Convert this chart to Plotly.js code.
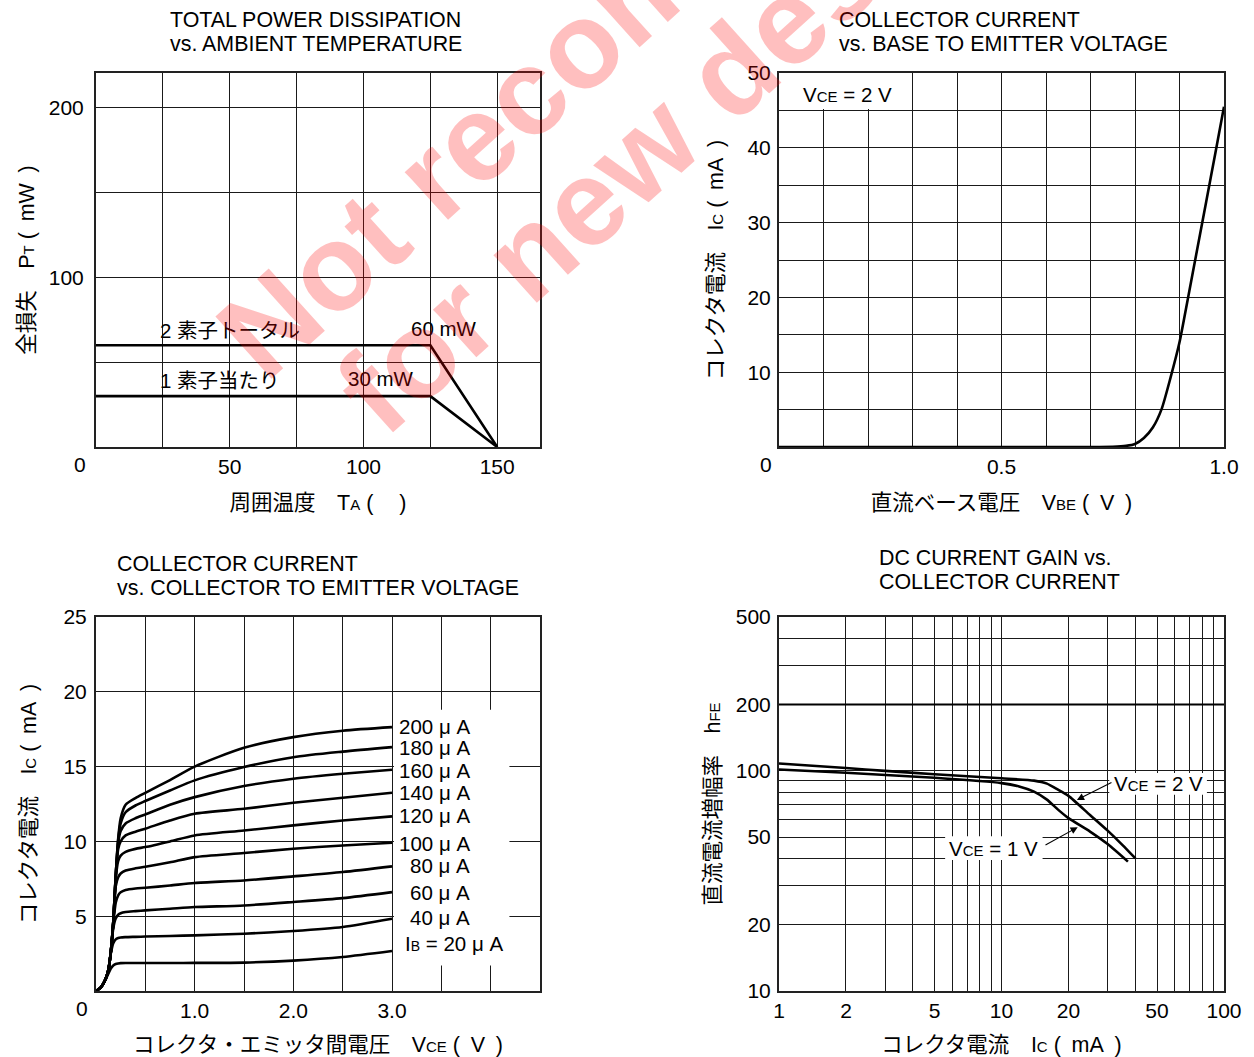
<!DOCTYPE html>
<html><head><meta charset="utf-8">
<script src="https://cdn.plot.ly/plotly-3.0.1.min.js"></script>
<style>html,body{margin:0;padding:0;background:#fff;}</style>
</head><body>
<div id="chart" style="width:1254px;height:1057px;"></div>
<script>
// ---------- Panel 1: total power dissipation vs ambient temperature ----------
const ambientTemp = [0, 125, 150];
const ptTwoElements = [60, 60, 0];
const ptOneElement = [30, 30, 0];

// ---------- Panel 2: collector current vs base-emitter voltage (VCE = 2 V) ----------
const vbe = [0, 0.70, 0.75, 0.78, 0.80, 0.82, 0.84, 0.86, 0.88, 0.90, 0.92, 0.94, 0.96, 0.98, 1.00];
const icVbe = [0, 0, 0.03, 0.15, 0.4, 1.2, 2.6, 5.1, 9.3, 14.0, 20.2, 26.5, 32.8, 39.1, 45.5];

// ---------- Panel 3: collector current vs collector-emitter voltage ----------
const vceGrid = [0, 0.05, 0.10, 0.125, 0.15, 0.175, 0.20, 0.225, 0.25, 0.30, 0.40, 0.50, 0.75, 1.0, 1.5, 2.0, 2.5, 3.0];
const ic_ib20  = [0, 0.25, 0.80, 1.15, 1.50, 1.70, 1.80, 1.84, 1.86, 1.87, 1.87, 1.87, 1.87, 1.88, 1.90, 2.03, 2.27, 2.67];
const ic_ib40  = [0, 0.25, 0.85, 1.35, 2.50, 3.20, 3.45, 3.54, 3.58, 3.60, 3.62, 3.64, 3.68, 3.72, 3.83, 4.01, 4.28, 4.83];
const ic_ib60  = [0, 0.25, 0.85, 1.40, 2.60, 4.20, 4.85, 5.10, 5.20, 5.28, 5.34, 5.39, 5.50, 5.61, 5.72, 5.95, 6.21, 6.61];
const ic_ib80  = [0, 0.25, 0.85, 1.40, 2.60, 4.50, 5.90, 6.40, 6.60, 6.75, 6.85, 6.90, 7.05, 7.22, 7.39, 7.66, 7.95, 8.33];
const ic_ib100 = [0, 0.25, 0.85, 1.40, 2.60, 4.60, 7.00, 7.60, 7.85, 8.05, 8.20, 8.30, 8.60, 8.95, 9.22, 9.51, 9.73, 9.91];
const ic_ib120 = [0, 0.25, 0.85, 1.40, 2.60, 4.60, 7.50, 8.70, 9.05, 9.30, 9.50, 9.62, 10.0, 10.4, 10.73, 11.07, 11.4, 11.67];
const ic_ib140 = [0, 0.25, 0.85, 1.40, 2.60, 4.60, 7.70, 9.50, 10.0, 10.4, 10.65, 10.85, 11.4, 11.85, 12.18, 12.58, 12.92, 13.25];
const ic_ib160 = [0, 0.25, 0.85, 1.40, 2.60, 4.60, 7.70, 9.90, 10.7, 11.2, 11.55, 11.8, 12.45, 12.96, 13.7, 14.19, 14.52, 14.79];
const ic_ib180 = [0, 0.25, 0.85, 1.40, 2.60, 4.60, 7.70, 10.1, 11.2, 11.95, 12.4, 12.7, 13.4, 14.08, 14.97, 15.63, 16.0, 16.3];
const ic_ib200 = [0, 0.25, 0.85, 1.40, 2.60, 4.60, 7.70, 10.2, 11.55, 12.45, 12.9, 13.25, 14.1, 15.0, 16.26, 16.97, 17.4, 17.64];
const ibCurves = [ic_ib20, ic_ib40, ic_ib60, ic_ib80, ic_ib100, ic_ib120, ic_ib140, ic_ib160, ic_ib180, ic_ib200];
const ibLabels = ['I<span style="font-size:14px">B</span> = 20 μ A', '40 μ A', '60 μ A', '80 μ A', '100 μ A',
                  '120 μ A', '140 μ A', '160 μ A', '180 μ A', '200 μ A'];
const ibLabelY = [3.15, 4.94, 6.61, 8.4, 9.85, 11.75, 13.24, 14.76, 16.26, 17.7];

// ---------- Panel 4: DC current gain vs collector current ----------
const icGain2V = [1, 2, 3, 5, 10, 14, 16, 18, 20, 25, 30, 35, 40];
const hfe2V    = [108, 103, 100, 96.5, 92.5, 90.3, 87.5, 82, 77, 63, 53.5, 46, 40];
const icGain1V = [1, 2, 5, 10, 12, 14, 16, 18, 20, 25, 30, 37];
const hfe1V    = [101.5, 98, 93, 88, 85, 80.5, 74, 66.5, 61, 53, 46.5, 38.7];

// ---------- tick / grid definitions ----------
const p1xTicks = [25, 50, 75, 100, 125, 150];
const p1xText  = ['', '50', '', '100', '', '150'];
const p1yTicks = [50, 100, 150, 200];
const p1yText  = ['', '100', '', '200'];
const p2xTicks = [0.1, 0.2, 0.3, 0.4, 0.5, 0.6, 0.7, 0.8, 0.9, 1.0];
const p2xText  = ['', '', '', '', '0.5', '', '', '', '', '1.0'];
const p2yTicks = [5, 10, 15, 20, 25, 30, 35, 40, 45, 50];
const p2yText  = ['', '10', '', '20', '', '30', '', '40', '', '50'];
const p3xTicks = [0.5, 1.0, 1.5, 2.0, 2.5, 3.0, 3.5, 4.0];
const p3xText  = ['', '1.0', '', '2.0', '', '3.0', '', ''];
const p3yTicks = [5, 10, 15, 20, 25];
const p3yText  = ['5', '10', '15', '20', '25'];
const p4xTicks = [1, 2, 3, 4, 5, 6, 7, 8, 9, 10, 20, 30, 40, 50, 60, 70, 80, 90, 100];
const p4xText  = ['1', '2', '', '', '5', '', '', '', '', '10', '20', '', '', '50', '', '', '', '', '100'];
const p4yTicks = [10, 20, 30, 40, 50, 60, 70, 80, 90, 100, 200, 300, 400, 500];
const p4yText  = ['10', '20', '', '', '50', '', '', '', '', '100', '200', '', '', '500'];

const FONT = 'Liberation Sans, Arial, Noto Sans CJK JP, sans-serif';
const sm = s => '<span style="font-size:15px">' + s + '</span>';
const LINE = {color: '#000', width: 2.6};
const EN = '\u2002', THIN = '\u2009', IDEO = '\u3000';

function ax(domain, anchor, tickvals, ticktext, range, titleText, standoff, labelGap, extra) {
  return Object.assign({
    domain: domain, anchor: anchor, range: range,
    tickmode: 'array', tickvals: tickvals, ticktext: ticktext,
    showgrid: true, gridcolor: '#1a1a1a', gridwidth: 1,
    showline: true, mirror: true, linecolor: '#222', linewidth: 2,
    zeroline: false, ticks: '', ticklabelstandoff: labelGap,
    tickfont: {family: FONT, size: 21, color: '#000'},
    title: {text: titleText, font: {family: FONT, size: 21.5, color: '#000'}, standoff: standoff},
    fixedrange: true
  }, extra || {});
}

const traces = [];
traces.push({x: ambientTemp, y: ptTwoElements, xaxis: 'x', yaxis: 'y', mode: 'lines', line: LINE, hoverinfo: 'skip'});
traces.push({x: ambientTemp, y: ptOneElement, xaxis: 'x', yaxis: 'y', mode: 'lines', line: LINE, hoverinfo: 'skip'});
traces.push({x: vbe, y: icVbe, xaxis: 'x2', yaxis: 'y2', mode: 'lines', line: Object.assign({shape: 'spline', smoothing: 0.6}, LINE), hoverinfo: 'skip'});
ibCurves.forEach(c => traces.push({x: vceGrid, y: c, xaxis: 'x3', yaxis: 'y3', mode: 'lines',
  line: Object.assign({shape: 'spline', smoothing: 0.7}, LINE), hoverinfo: 'skip'}));
traces.push({x: icGain2V, y: hfe2V, xaxis: 'x4', yaxis: 'y4', mode: 'lines', line: Object.assign({shape: 'spline', smoothing: 0.6}, LINE), hoverinfo: 'skip'});
traces.push({x: icGain1V, y: hfe1V, xaxis: 'x4', yaxis: 'y4', mode: 'lines', line: Object.assign({shape: 'spline', smoothing: 0.6}, LINE), hoverinfo: 'skip'});

const W = 1128, H = 918, L = 96, T = 73;
const px = v => (v - L) / W;       // page px -> paper x
const py = v => (T + H - v) / H;   // page px -> paper y

const TF = {family: FONT, size: 21.4, color: '#000'};
const AF = {family: FONT, size: 20.5, color: '#000'};
const txt = (s, x, y, xa, font) => ({text: s, xref: 'paper', yref: 'paper', x: px(x), y: py(y),
  xanchor: xa || 'left', yanchor: 'middle', showarrow: false, font: font || TF});
const lab = (s, xr, yr, x, y, xa) => ({text: s, xref: xr, yref: yr, x: x, y: y, xanchor: xa || 'left', yanchor: 'middle', showarrow: false, font: AF});

const annotations = [
  txt('TOTAL POWER DISSIPATION', 168, 20), txt('vs. AMBIENT TEMPERATURE', 168, 44),
  txt('COLLECTOR CURRENT', 837, 20), txt('vs. BASE TO EMITTER VOLTAGE', 837, 44),
  txt('COLLECTOR CURRENT', 115, 564), txt('vs. COLLECTOR TO EMITTER VOLTAGE', 115, 588),
  txt('DC CURRENT GAIN vs.', 877, 558), txt('COLLECTOR CURRENT', 877, 582),
  txt('0', 80, 465, 'center', {family: FONT, size: 21, color: '#000'}),
  txt('0', 766, 465, 'center', {family: FONT, size: 21, color: '#000'}),
  txt('0', 82, 1008, 'center', {family: FONT, size: 21, color: '#000'}),
  lab('2 素子トータル', 'x', 'y', 23, 68.5),
  lab('60 mW', 'x', 'y', 117, 70),
  lab('1 素子当たり', 'x', 'y', 23, 39.3),
  lab('30 mW', 'x', 'y', 93.5, 40.3),
  lab('V' + sm('CE') + ' = 2 V', 'x2', 'y2', 0.05, 47.1),
  lab('V' + sm('CE') + ' = 2 V', 'x4', 'y4', 1.704, 1.941, 'center'),
  lab('V' + sm('CE') + ' = 1 V', 'x4', 'y4', 0.965, 1.649, 'center'),
  {text: '', xref: 'x4', yref: 'y4', x: 1.339, y: 1.868, axref: 'x4', ayref: 'y4', ax: 1.501, ay: 1.951, showarrow: true, arrowhead: 2, arrowsize: 1.3, arrowwidth: 1.1, arrowcolor: '#000'},
  {text: '', xref: 'x4', yref: 'y4', x: 1.3425, y: 1.744, axref: 'x4', ayref: 'y4', ax: 1.191, ay: 1.659, showarrow: true, arrowhead: 2, arrowsize: 1.3, arrowwidth: 1.1, arrowcolor: '#000'}
];
ibLabels.forEach((s, i) => annotations.push(lab(s, 'x3', 'y3', i === 0 ? 3.11 : 3.81, ibLabelY[i], i === 0 ? 'left' : 'right')));
// watermark (runs off the top edge of the sheet, as in the original)
const WM = {family: FONT, size: 122, color: 'rgba(255,0,0,0.25)', weight: 'bold'};
annotations.push({text: 'Not recommended', xref: 'paper', yref: 'paper', x: px(635), y: py(-5), xanchor: 'center', yanchor: 'middle',
  textangle: -42, showarrow: false, font: WM});
annotations.push({text: 'for new design', xref: 'paper', yref: 'paper', x: px(676), y: py(121), xanchor: 'center', yanchor: 'middle',
  textangle: -42, showarrow: false, font: WM});

const white = (xr, yr, x0, x1, y0, y1) => ({type: 'rect', xref: xr, yref: yr, x0: x0, x1: x1, y0: y0, y1: y1,
  fillcolor: '#fff', line: {width: 0}, layer: 'between'});
const shapes = [
  white('x2', 'y2', 0, 0.28, 45.2, 50),
  white('x3', 'y3', 3.02, 4.19, 1.7, 18.8),
  white('x4', 'y4', 30.5, 83.8, 77.8, 97.9),
  white('x4', 'y4', 5.58, 15.3, 39.4, 50.5),
  {type: 'line', xref: 'x4', yref: 'y4', x0: 1, x1: 100, y0: 200, y1: 200, line: {color: '#000', width: 2}, layer: 'between'}
];

const dx1 = [0, 444 / W], dx2 = [683 / W, 1];
const dyTop = [544 / H, 1], dyBot = [0, 374 / H];

const layout = {
  width: 1254, height: 1057,
  margin: {l: L, r: 30, t: T, b: 66},
  paper_bgcolor: '#fff', plot_bgcolor: '#fff',
  showlegend: false,
  font: {family: FONT, size: 20, color: '#000'},
  xaxis:  ax(dx1, 'y',  p1xTicks, p1xText, [0, 166], '周囲温度' + IDEO + 'T' + sm('A') + ' (' + IDEO + THIN + ')', 18, 0),
  yaxis:  ax(dyTop, 'x', p1yTicks, p1yText, [0, 220.5], '全損失' + IDEO + 'P' + sm('T') + ' (' + EN + 'mW' + EN + ')', 8, 6),
  xaxis2: ax(dx2, 'y2', p2xTicks, p2xText, [0, 1], '直流ベース電圧' + IDEO + 'V' + sm('BE') + ' (' + EN + 'V' + EN + ')', 18, 0),
  yaxis2: ax(dyTop, 'x2', p2yTicks, p2yText, [0, 50], 'コレクタ電流' + IDEO + 'I' + sm('C') + ' (' + EN + 'mA' + EN + ')', 18, 2),
  xaxis3: ax(dx1, 'y3', p3xTicks, p3xText, [0, 4.5], 'コレクタ・エミッタ間電圧' + IDEO + 'V' + sm('CE') + ' (' + EN + 'V' + EN + ')', 23, 0),
  yaxis3: ax(dyBot, 'x3', p3yTicks, p3yText, [0, 25], 'コレクタ電流' + IDEO + 'I' + sm('C') + ' (' + EN + 'mA' + EN + ')', 21, 3),
  xaxis4: ax(dx2, 'y4', p4xTicks, p4xText, [0, 2], 'コレクタ電流' + IDEO + 'I' + sm('C') + ' (' + EN + 'mA' + EN + ')', 23, 0, {type: 'log'}),
  yaxis4: ax(dyBot, 'x4', p4yTicks, p4yText, [1, Math.log10(500)], '直流電流増幅率' + IDEO + 'h' + sm('FE'), 9, 2, {type: 'log'}),
  annotations: annotations,
  shapes: shapes
};

Plotly.newPlot('chart', traces, layout, {displayModeBar: false, staticPlot: true});
</script>
</body></html>
